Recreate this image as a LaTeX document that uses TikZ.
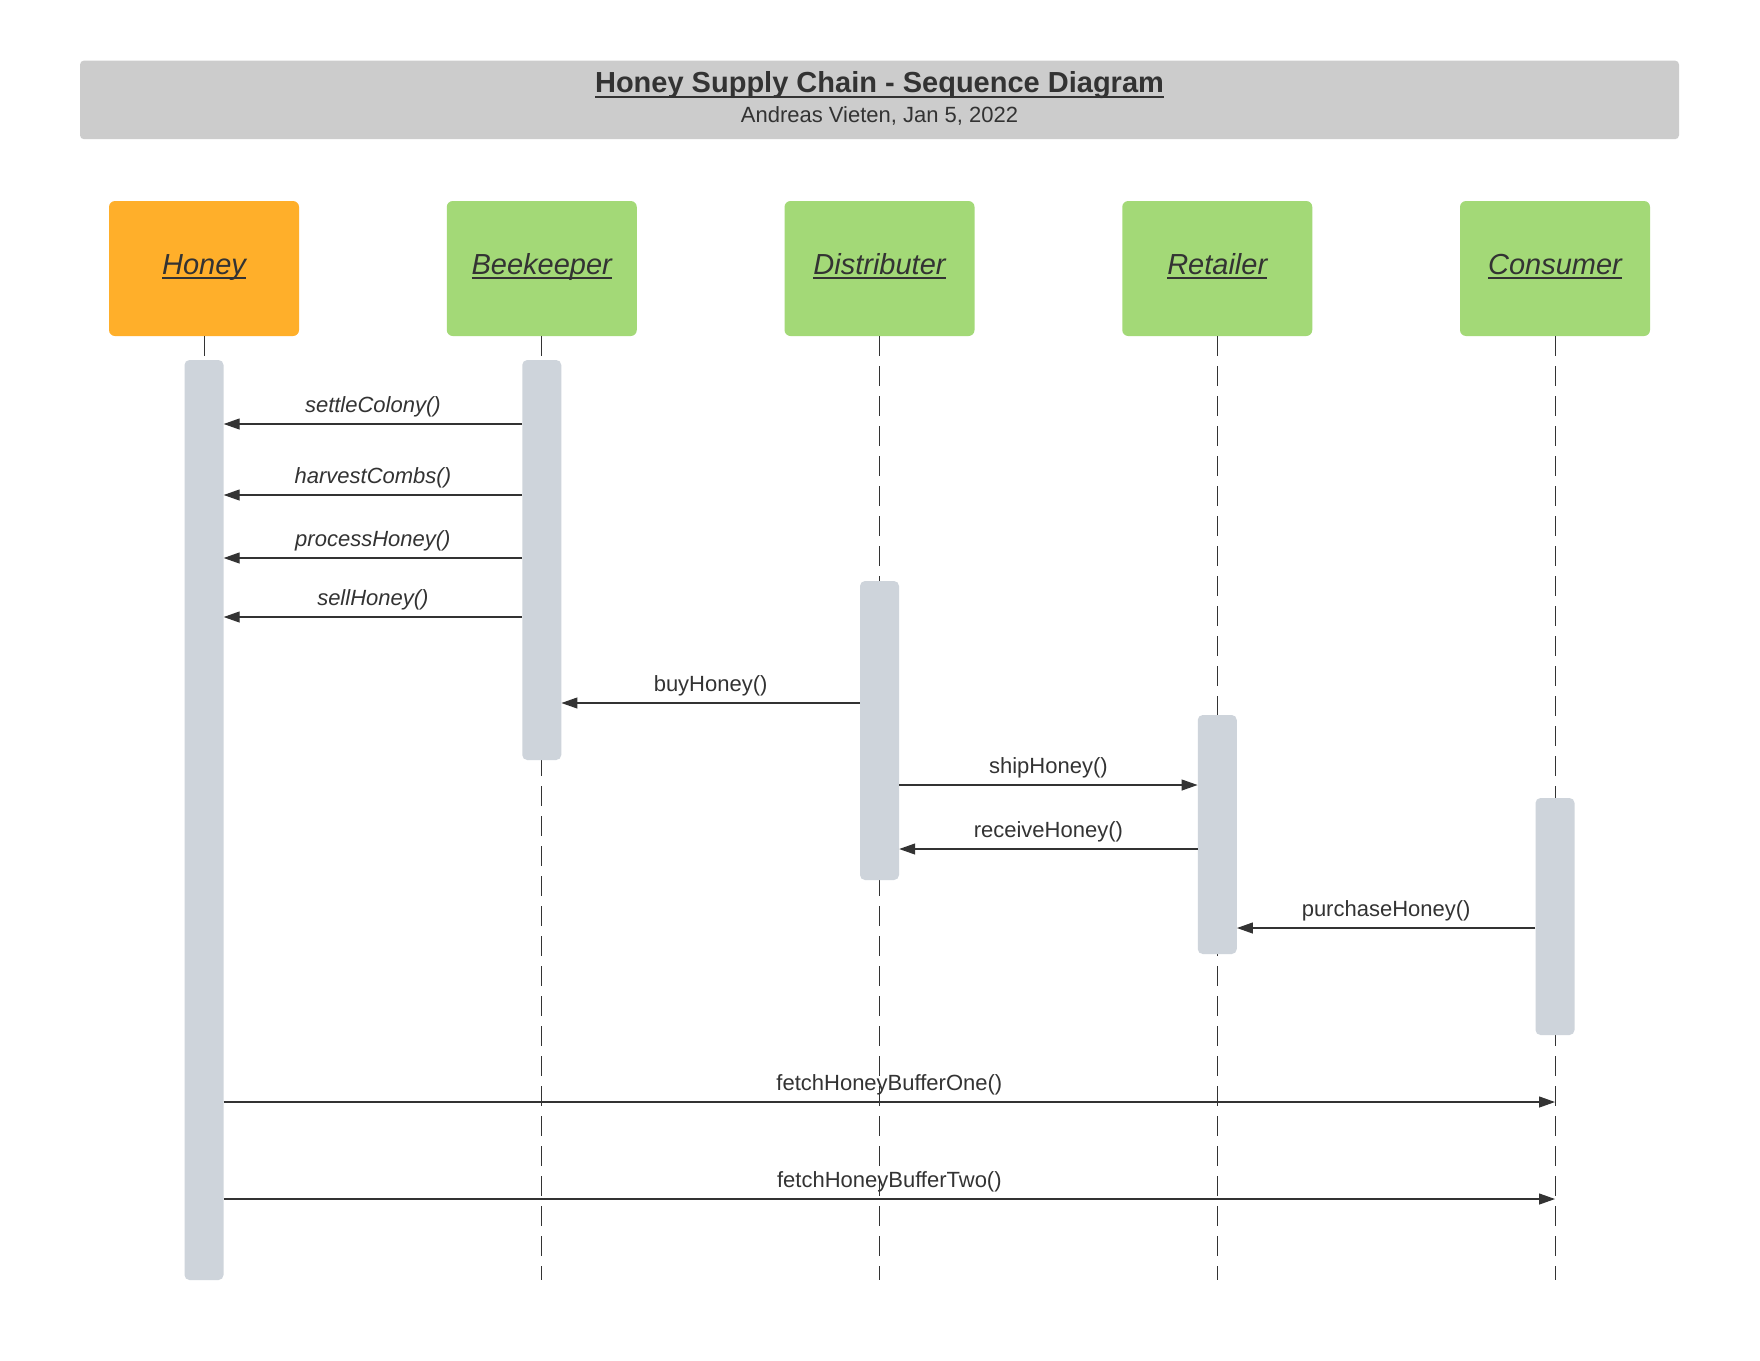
\documentclass[tikz,border=0pt]{standalone}
\usepackage{fontspec}
\setmainfont{Liberation Sans}
\usetikzlibrary{arrows.meta}
\definecolor{txt}{HTML}{333333}
\definecolor{titlebg}{HTML}{CCCCCC}
\definecolor{orng}{HTML}{FFAF2A}
\definecolor{grn}{HTML}{A3D977}
\definecolor{barc}{HTML}{CED4DB}
\newcommand\myul[3]{\setbox0=\hbox{#3}\leavevmode\rlap{\vrule height -#1pt depth \dimexpr #1pt + #2pt\relax width \wd0}\box0}
\tikzset{
  actor/.style={minimum width=190, minimum height=135, rounded corners=6pt, inner sep=0pt,
    text height=11pt, text depth=0pt, text=txt, font=\fontsize{29}{34}\selectfont\itshape},
  life/.style={draw=txt, line width=1pt, dash pattern=on 20pt off 10pt},
  bar/.style={fill=barc, rounded corners=5pt, minimum width=39, inner sep=0pt},
  msg/.style={draw=txt, line width=1.2pt, -{Triangle[length=16pt,width=11pt]}},
  lbl/.style={anchor=base, yshift=12pt, inner sep=0pt, text=txt, font=\fontsize{22}{26}\selectfont},
  lbli/.style={lbl, font=\fontsize{22}{26}\selectfont\itshape}
}
\begin{document}
\begin{tikzpicture}[x=1pt,y=-1pt]
\fill[white] (0,0) rectangle (1760,1360);
\useasboundingbox (0,0) rectangle (1760,1360);

% title
\node[fill=titlebg, rounded corners=4pt, minimum width=1599, minimum height=78.6, inner sep=0pt] (tbar) at (879.5,99.9) {};
\node[anchor=base, inner sep=0pt, text=txt, font=\fontsize{29}{33}\selectfont\bfseries] (title) at (879.5,92.5) {\myul{3}{2.5}{Honey Supply Chain - Sequence Diagram}};
\node[anchor=base, inner sep=0pt, text=txt, font=\fontsize{22}{26}\selectfont] (sub) at (879.5,122) {Andreas Vieten, Jan 5, 2022};

% actors
\node[actor, fill=orng] (honey) at (204,268.5) {\myul{3}{2}{Honey}};
\node[actor, fill=grn] (bee) at (541.75,268.5) {\myul{3}{2}{Beekeeper}};
\node[actor, fill=grn] (dist) at (879.5,268.5) {\myul{3}{2}{Distributer}};
\node[actor, fill=grn] (ret) at (1217.25,268.5) {\myul{3}{2}{Retailer}};
\node[actor, fill=grn] (cons) at (1555,268.5) {\myul{3}{2}{Consumer}};

% lifelines
\coordinate (hoE) at (204,1280);
\coordinate (beE) at (541.75,1280);
\coordinate (diE) at (879.5,1280);
\coordinate (reE) at (1217.25,1280);
\coordinate (coE) at (1555,1280);
\draw[life] (honey) -- (hoE);
\draw[life] (bee) -- (beE);
\draw[life] (dist) -- (diE);
\draw[life] (ret) -- (reE);
\draw[life] (cons) -- (coE);

% activation bars
\node[bar, minimum height=920] (hob) at (204,820) {};
\node[bar, minimum height=400] (beb) at (541.75,560) {};
\node[bar, minimum height=299] (dib) at (879.5,730.5) {};
\node[bar, minimum height=239] (reb) at (1217.25,834.5) {};
\node[bar, minimum height=237] (cob) at (1555,916.5) {};

% messages
\draw[msg] (beb.west |- 0,424) -- node[lbli]{settleColony()} (hob.east |- 0,424);
\draw[msg] (beb.west |- 0,495) -- node[lbli]{harvestCombs()} (hob.east |- 0,495);
\draw[msg] (beb.west |- 0,558) -- node[lbli]{processHoney()} (hob.east |- 0,558);
\draw[msg] (beb.west |- 0,617) -- node[lbli]{sellHoney()} (hob.east |- 0,617);
\draw[msg] (dib.west |- 0,703) -- node[lbl]{buyHoney()} (beb.east |- 0,703);
\draw[msg] (dib.east |- 0,785) -- node[lbl]{shipHoney()} (reb.west |- 0,785);
\draw[msg] (reb.west |- 0,849) -- node[lbl]{receiveHoney()} (dib.east |- 0,849);
\draw[msg] (cob.west |- 0,928) -- node[lbl]{purchaseHoney()} (reb.east |- 0,928);
\draw[msg] (hob.east |- 0,1102) -- node[lbl]{fetchHoneyBufferOne()} (coE |- 0,1102);
\draw[msg] (hob.east |- 0,1199) -- node[lbl]{fetchHoneyBufferTwo()} (coE |- 0,1199);
\end{tikzpicture}
\end{document}
